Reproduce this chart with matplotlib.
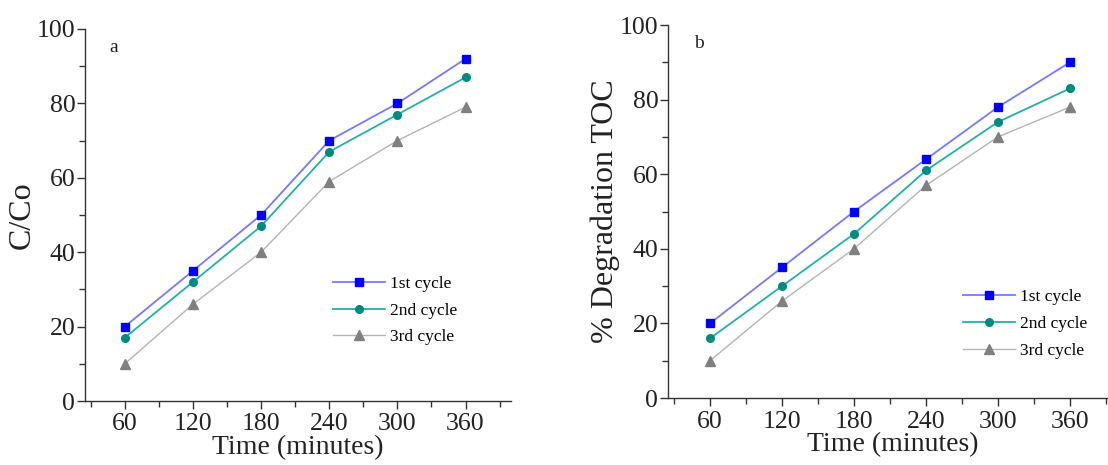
import matplotlib
matplotlib.use("Agg")
import matplotlib.pyplot as plt
from matplotlib.ticker import MultipleLocator, FixedLocator

time_min = [60, 120, 180, 240, 300, 360]
series_labels = ["1st cycle", "2nd cycle", "3rd cycle"]

a_cycle1 = [20, 35, 50, 70, 80, 92]
a_cycle2 = [17, 32, 47, 67, 77, 87]
a_cycle3 = [10, 26, 40, 59, 70, 79]

b_cycle1 = [20, 35, 50, 64, 78, 90]
b_cycle2 = [16, 30, 44, 61, 74, 83]
b_cycle3 = [10, 26, 40, 57, 70, 78]

x_ticks = [60, 120, 180, 240, 300, 360]
x_minor = [30, 90, 150, 210, 270, 330, 390]

plt.rcParams['font.family'] = ['Liberation Serif', 'DejaVu Serif']

styles = [
    dict(color='#7878ff', marker='s', mfc='#0000ff', mec='#0000ff', ms=5.5, lw=1.3),
    dict(color='#20b2aa', marker='o', mfc='#008b80', mec='#008b80', ms=5.5, lw=1.3),
    dict(color='#b4b4b4', marker='^', mfc='#808080', mec='#808080', ms=6.5, lw=1.0),
]

fig = plt.figure(figsize=(11.08, 4.65), dpi=100)
ax_a = fig.add_axes([85/1108, 1-401/465, 426/1108, 372/465])
ax_b = fig.add_axes([668/1108, 1-398/465, 450/1108, 373/465])

def setup(ax, data, ylabel, letter, leg_anchor, ylpad):
    for vals, lab, st in zip(data, series_labels, styles):
        ax.plot(time_min, vals, label=lab, **st)
    ax.set_xlim(25, 400)
    ax.set_ylim(0, 100)
    ax.xaxis.set_major_locator(FixedLocator(x_ticks))
    ax.xaxis.set_minor_locator(FixedLocator(x_minor))
    ax.yaxis.set_major_locator(MultipleLocator(20))
    ax.yaxis.set_minor_locator(MultipleLocator(10))
    for s in ['top', 'right']:
        ax.spines[s].set_visible(False)
    for s in ['left', 'bottom']:
        ax.spines[s].set_color('#333333')
        ax.spines[s].set_linewidth(1.0)
    ax.tick_params(which='major', direction='out', length=6, width=1, labelsize=18.5, colors='#333333')
    ax.tick_params(axis='x', which='major', pad=3)
    ax.tick_params(axis='y', which='major', pad=1)
    ax.tick_params(which='minor', direction='out', length=4, width=1, colors='#333333')
    ax.tick_params(labelcolor='#222222')
    ax.set_xlabel("Time (minutes)", fontsize=20, labelpad=0, color='#222222')
    ax.set_ylabel(ylabel, fontsize=23, labelpad=ylpad, color='#222222')
    ax.text(0.058, 0.95, letter, transform=ax.transAxes, fontsize=14, color='#222222', va='center')
    ax.legend(loc='upper left', bbox_to_anchor=leg_anchor, frameon=False, fontsize=12.5,
              handlelength=3.0, labelspacing=0.6, handletextpad=0.3, borderaxespad=0)

setup(ax_a, [a_cycle1, a_cycle2, a_cycle3], "C/Co", "a", (0.565, 0.355), 0)
setup(ax_b, [b_cycle1, b_cycle2, b_cycle3], "% Degradation TOC", "b", (0.64, 0.31), 0)

fig.savefig("out.png", dpi=100)
